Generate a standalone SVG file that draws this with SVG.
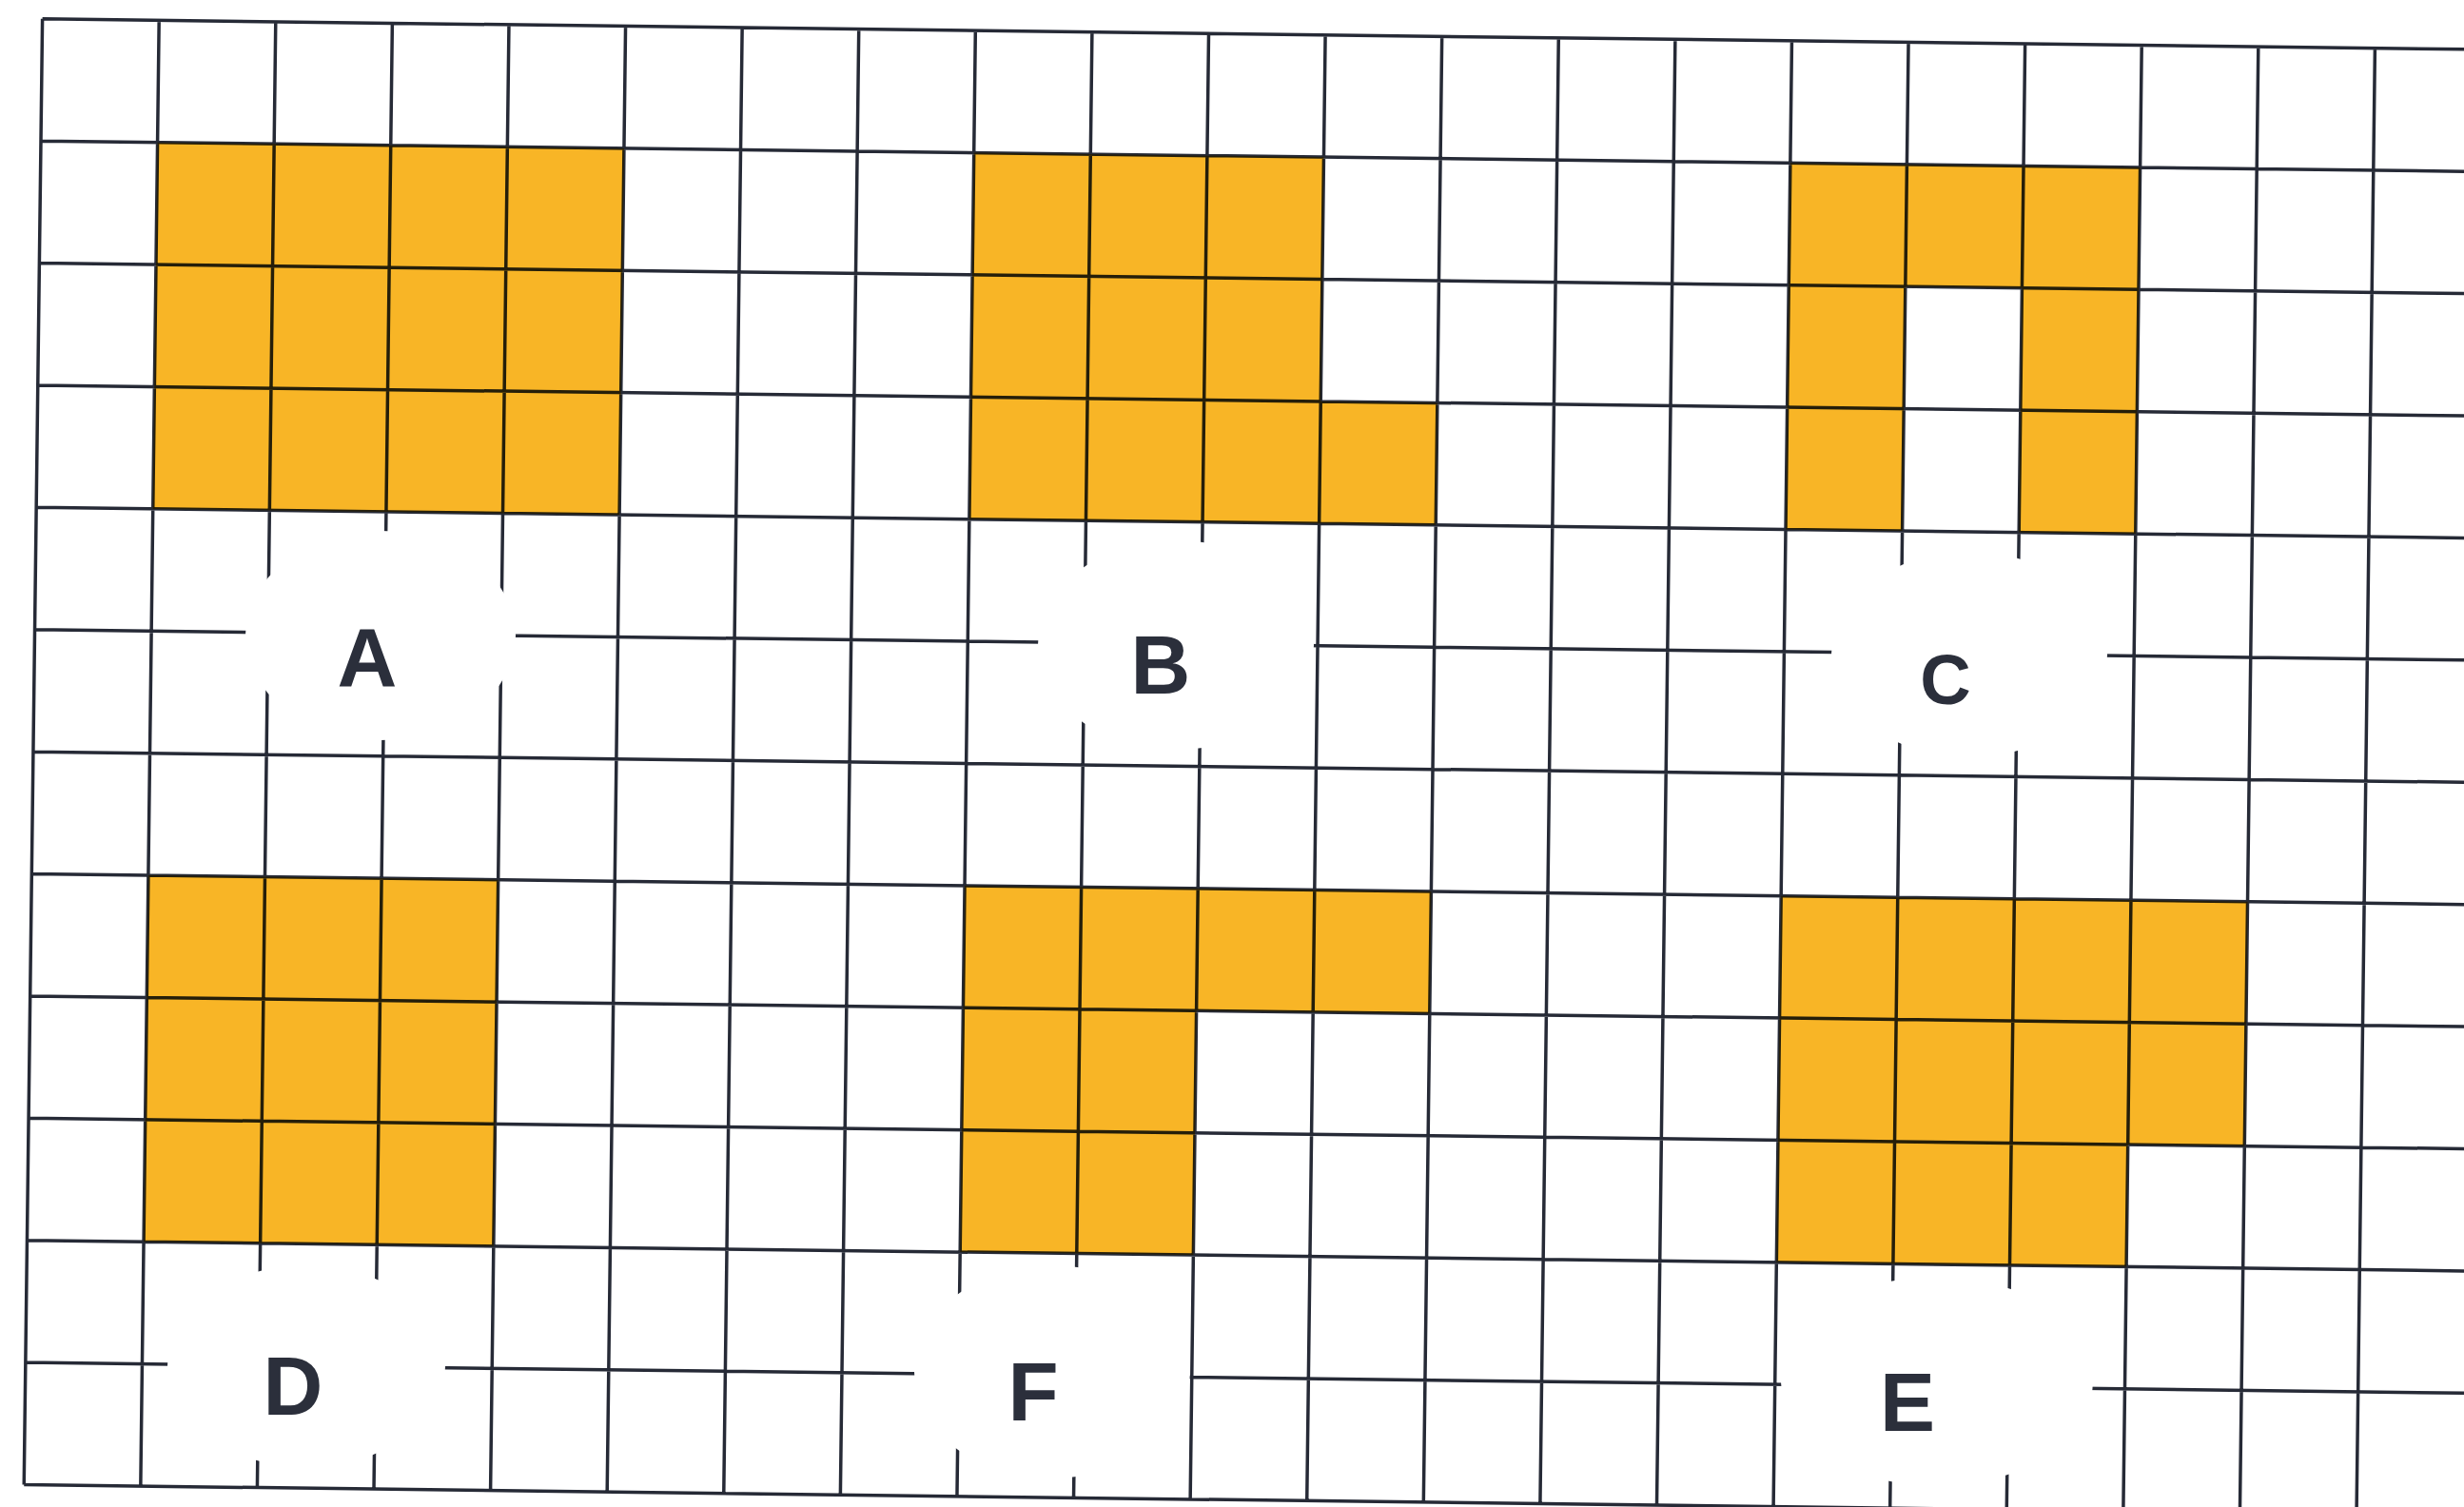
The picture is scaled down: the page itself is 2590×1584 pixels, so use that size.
<svg xmlns="http://www.w3.org/2000/svg" width="2590" height="1584" viewBox="0 0 2590 1584">
<style>
.cell{fill:#F8B526;mix-blend-mode:multiply}
.erase{fill:#ffffff}
.lbl{font-family:"Liberation Sans",Arial,sans-serif;font-weight:bold;font-size:87px;fill:#2b2f3b;text-anchor:middle}
.grid{fill:none;stroke:#262a36;stroke-width:3.5}
</style>
<rect x="0" y="0" width="2590" height="1584" fill="#ffffff"/>
<g id="grid" transform="rotate(0.72 44.6 19.8)">
<path class="grid" d="M44.6 19.8V1560.6M167.2 19.8V1560.6M289.8 19.8V1560.6M412.4 19.8V1560.6M535 19.8V1560.6M657.6 19.8V1560.6M780.2 19.8V1560.6M902.8 19.8V1560.6M1025.4 19.8V1560.6M1148 19.8V1560.6M1270.6 19.8V1560.6M1393.2 19.8V1560.6M1515.8 19.8V1560.6M1638.4 19.8V1560.6M1761 19.8V1560.6M1883.6 19.8V1560.6M2006.2 19.8V1560.6M2128.8 19.8V1560.6M2251.4 19.8V1560.6M2374 19.8V1560.6M2496.6 19.8V1560.6M44.6 19.8H2700M44.6 148.2H2700M44.6 276.6H2700M44.6 405H2700M44.6 533.4H2700M44.6 661.8H2700M44.6 790.2H2700M44.6 918.6H2700M44.6 1047H2700M44.6 1175.4H2700M44.6 1303.8H2700M44.6 1432.2H2700M44.6 1560.6H2700"/>
</g>
<g id="shape-A">
<ellipse class="erase" cx="400" cy="668" rx="142" ry="110"/>
<g transform="rotate(0.72 44.6 19.8)"><polygon class="cell" points="167.2,148.2 657.6,148.2 657.6,533.4 167.2,533.4"/></g>
<text class="lbl" x="386" y="721">A</text>
</g>
<g id="shape-B">
<ellipse class="erase" cx="1236" cy="678" rx="145" ry="110"/>
<g transform="rotate(0.72 44.6 19.8)"><polygon class="cell" points="1025.4,148.2 1393.2,148.2 1393.2,405 1515.8,405 1515.8,533.4 1025.4,533.4"/></g>
<text class="lbl" x="1220" y="729">B</text>
</g>
<g id="shape-C">
<ellipse class="erase" cx="2070" cy="688" rx="145" ry="108"/>
<g transform="rotate(0.72 44.6 19.8)"><polygon class="cell" points="1883.6,148.2 2251.4,148.2 2251.4,533.4 2128.8,533.4 2128.8,276.6 2006.2,276.6 2006.2,533.4 1883.6,533.4"/></g>
<text class="lbl" x="2045" y="740" style="font-size:74px">C</text>
</g>
<g id="shape-D">
<ellipse class="erase" cx="322" cy="1436" rx="146" ry="106"/>
<g transform="rotate(0.72 44.6 19.8)"><polygon class="cell" points="167.2,918.6 535,918.6 535,1303.8 167.2,1303.8"/></g>
<text class="lbl" x="308" y="1487">D</text>
</g>
<g id="shape-F">
<ellipse class="erase" cx="1106" cy="1442" rx="145" ry="112"/>
<g transform="rotate(0.72 44.6 19.8)"><polygon class="cell" points="1025.4,918.6 1515.8,918.6 1515.8,1047 1270.6,1047 1270.6,1303.8 1025.4,1303.8"/></g>
<text class="lbl" x="1086" y="1493">F</text>
</g>
<g id="shape-E">
<ellipse class="erase" cx="2036" cy="1452" rx="164" ry="110"/>
<g transform="rotate(0.72 44.6 19.8)"><polygon class="cell" points="1883.6,918.6 2374,918.6 2374,1175.4 2251.4,1175.4 2251.4,1303.8 1883.6,1303.8"/></g>
<text class="lbl" x="2005" y="1504">E</text>
</g>
</svg>
